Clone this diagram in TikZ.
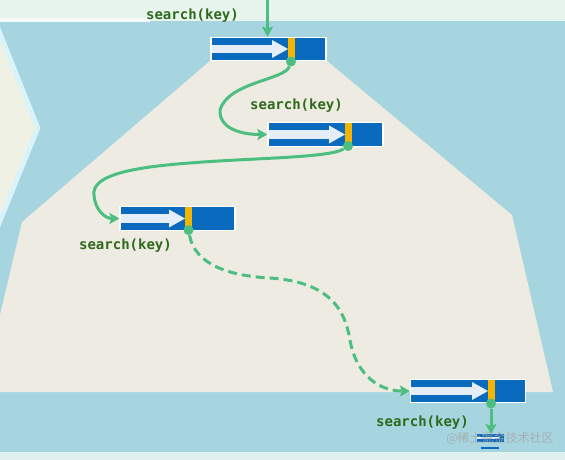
\documentclass[tikz,border=0pt]{standalone}
\usepackage{fontspec}
\newfontfamily\lblfont{DejaVu Sans Mono}
\newfontfamily\cjk{Noto Sans CJK SC}
\usetikzlibrary{arrows.meta,calc}
\definecolor{bgblue}{HTML}{A6D5E0}
\definecolor{beige}{HTML}{EDEBE2}
\definecolor{strip}{HTML}{E7F5EE}
\definecolor{cream}{HTML}{EFF1E4}
\definecolor{nodeblue}{HTML}{0A6BBE}
\definecolor{lightarrow}{HTML}{E4EEF8}
\definecolor{yellowbar}{HTML}{F4B400}
\definecolor{conn}{HTML}{4CBF80}
\definecolor{lblgreen}{HTML}{2F6A1C}
\begin{document}
\begin{tikzpicture}[x=1pt,y=-1pt,
  keynode/.style={rectangle, minimum width=115pt, minimum height=23.5pt, inner sep=0pt,
    fill=nodeblue, draw=white, line width=1.2pt,
    path picture={
      \fill[lightarrow] ([yshift=4.2pt]path picture bounding box.west) rectangle ([xshift=#1pt-15pt,yshift=-4.2pt]path picture bounding box.west);
      \fill[lightarrow] ([xshift=#1pt-16pt,yshift=9pt]path picture bounding box.west) -- ([xshift=#1pt-16pt,yshift=-9pt]path picture bounding box.west) -- ([xshift=#1pt]path picture bounding box.west) -- cycle;
      \fill[yellowbar] ([xshift=#1pt]path picture bounding box.south west) rectangle ([xshift=#1pt+6.5pt]path picture bounding box.north west);
    }},
  dot/.style={circle, fill=conn, minimum size=10pt, inner sep=0pt},
  conline/.style={draw=conn, line width=3pt, -{Stealth[length=10pt,width=11pt,inset=2pt]}},
  lbl/.style={text=lblgreen, font=\lblfont\bfseries\fontsize{14}{16}\selectfont, inner sep=0pt}
]
\useasboundingbox (0,0) rectangle (565,460);
% backgrounds
\fill[bgblue] (0,0) rectangle (565,460);
\fill[strip] (0,0) rectangle (565,21);
\fill[white!60!strip] (0,18.5) rectangle (150,22);
\fill[white!50!bgblue!30!strip] (0,452) rectangle (565,460);
\filldraw[fill=cream, draw=white!85!cyan, line width=4.5pt, line join=miter] (-6,18) -- (38,128) -- (-6,236);
\fill[beige] (210,61) -- (327,61) -- (512,215) -- (553,392) -- (0,392) -- (0,315) -- (22,222) -- cycle;

% nodes
\node[keynode=77] (n1) at (268.5,49) {};
\node[keynode=77] (n2) at (325.5,134.5) {};
\node[keynode=65] (n3) at (177.5,218.5) {};
\node[keynode=77.5] (n4) at (468,391) {};

% partial node at bottom
\fill[nodeblue] (477,434) rectangle (504,442);
\fill[lightarrow] (477,437) rectangle (499,439);
\fill[nodeblue] (481,446.5) rectangle (499,449);

% labels
\node[lbl] (l1) at (192.5,16) {search(key)};
\node[lbl] (l2) at (296.5,106) {search(key)};
\node[lbl] (l3) at (125.5,246) {search(key)};
\node[lbl] (l4) at (422.5,423) {search(key)};

% connectors
\coordinate (top) at (267.5,-2);
\coordinate (bot) at (491,434);
\node[dot] (d1) at (291,61.5) {};
\node[dot] (d2) at (348,146) {};
\node[dot] (d3) at (188.5,230) {};
\node[dot] (d4) at (491,403.5) {};

\draw[conline] (top) -- (top |- n1.north);
\draw[conline] (d1) .. controls (285,80) and (228,82) .. (220,110) .. controls (219,128) and (240,134.5) .. (n2.west);
\draw[conline] (d2) .. controls (330,158) and (250,158) .. (190,163) .. controls (120,168) and (92,178) .. (94,195) .. controls (95,210) and (105,218.5) .. (n3.west);
\draw[conline, dash pattern=on 9pt off 5pt] (d3) .. controls (195,265) and (230,276) .. (270,278) .. controls (330,282) and (345,310) .. (350,340) .. controls (355,370) and (375,391) .. (n4.west);
\draw[conline] (d4) -- (bot);

% watermark
\node[text=gray!70, opacity=0.8, font=\cjk\fontsize{12}{12}\selectfont, inner sep=0pt] (wm) at (500,438.5) {@稀土掘金技术社区};
\end{tikzpicture}
\end{document}
